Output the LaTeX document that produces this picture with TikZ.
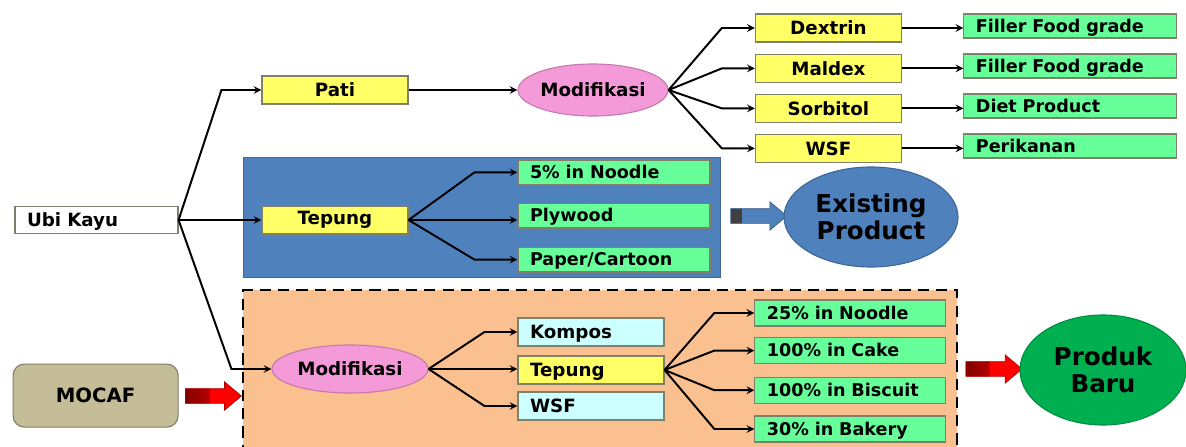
\documentclass[tikz,border=0pt]{standalone}
\usepackage{fontspec}
\setmainfont{DejaVu Sans}
\usetikzlibrary{arrows, shapes.geometric, shapes.arrows, positioning}
\pgfdeclarelayer{bg}
\pgfsetlayers{bg,main}
\definecolor{yel}{HTML}{FFFF66}
\definecolor{grn}{HTML}{66FF99}
\definecolor{pnk}{HTML}{F59AD8}
\definecolor{blu}{HTML}{4F81BD}
\definecolor{peach}{HTML}{FAC090}
\definecolor{cyn}{HTML}{CCFFFF}
\definecolor{tan}{HTML}{C4BD97}
\definecolor{dgrn}{HTML}{00B050}
\definecolor{boxline}{HTML}{7F7F6A}
\tikzset{
	font = {\bfseries\fontsize{13pt}{15pt}\selectfont},
	ybox/.style = {rectangle, minimum width = 3.65cm, minimum height = 0.7cm, inner sep = 0pt, text centered, draw = boxline, line width = 0.8pt, fill = yel},
	lbox/.style = {rectangle, inner xsep = 0.3cm, inner ysep = 0pt, align = left, text width = #1, text height = 10.5pt, text depth = 1.5pt, draw = boxline, line width = 0.8pt},
	gbox/.style = {lbox = #1, minimum height = 0.62cm, fill = grn, font = {\bfseries\fontsize{12.5pt}{14pt}\selectfont}},
	modif/.style = {ellipse, inner sep = 0pt, draw = pnk!80!black, line width = 0.8pt, fill = pnk},
	bigell/.style = {ellipse, inner sep = 0pt, align = center, line width = 0.8pt, font = {\bfseries\fontsize{17.5pt}{19pt}\selectfont}},
	blockarrow/.style = {single arrow, inner xsep = 0pt, inner ysep = 0.175cm, minimum height = 1.4cm, single arrow head extend = 0.17cm, single arrow tip angle = 80, draw = #1!70!black, line width = 0.5pt},
	conn/.style = {->, > = stealth, draw = black, line width = 1.4pt}
}

\begin{document}
\begin{tikzpicture}
	\useasboundingbox (0,0) rectangle (29.65,-11.175);

	%%%%%%%% source %%%%%%%%
	\node (ubi) [lbox = 3.475cm, minimum height = 0.675cm, fill = white] at (2.4125,-5.5) {Ubi Kayu};
	\node (mocaf) [rectangle, rounded corners = 8pt, minimum width = 4.125cm, minimum height = 1.575cm, draw = boxline, line width = 0.8pt, fill = tan, font = {\bfseries\fontsize{14pt}{16pt}\selectfont}] at (2.39,-9.89) {MOCAF};

	%% pati branch
	\node (pati) [ybox] at (8.375,-2.25) {Pati};
	\node (modifa) [modif, minimum width = 3.75cm, minimum height = 1.3cm] at (14.825,-2.25) {Modifikasi};
	\node (dextrin) [ybox] at (20.71,-0.7) {Dextrin};
	\node (maldex) [ybox, below of = dextrin, yshift = -0.01cm] {Maldex};
	\node (sorbitol) [ybox, below of = maldex] {Sorbitol};
	\node (wsfa) [ybox, below of = sorbitol] {WSF};
	\node (fillera) [gbox = 4.725cm, minimum height = 0.6cm] at (26.76,-0.65) {Filler Food grade};
	\node (fillerb) [gbox = 4.725cm, minimum height = 0.6cm, below of = fillera] {Filler Food grade};
	\node (diet) [gbox = 4.725cm, minimum height = 0.6cm, below of = fillerb] {Diet Product};
	\node (perikanan) [gbox = 4.725cm, minimum height = 0.6cm, below of = diet] {Perikanan};

	%% existing product
	\begin{pgfonlayer}{bg}
	\node (bluebox) [rectangle, minimum width = 11.925cm, minimum height = 3cm, draw = blu!80!black, fill = blu] at (12.0375,-5.425) {};
	\end{pgfonlayer}
	\node (tepunga) [ybox] at (8.375,-5.5) {Tepung};
	\node (noodle5) [gbox = 4.2cm] at (15.35,-4.31) {5\% in Noodle};
	\node (plywood) [gbox = 4.2cm, below of = noodle5, yshift = -0.08cm] {Plywood};
	\node (paper) [gbox = 4.2cm, below of = plywood, yshift = -0.1cm] {Paper/Cartoon};
	\node (arrowblue) [blockarrow = blu, fill = blu, path picture = {\fill[black!75] (path picture bounding box.south west) rectangle ([xshift = 0.28cm]path picture bounding box.north west);}] at (18.86,-5.4) {};
	\node (existing) [bigell, minimum width = 4.35cm, minimum height = 2.5cm, draw = blu!80!black, fill = blu] at (21.775,-5.425) {Existing\\Product};

	%% new product
	\begin{pgfonlayer}{bg}
	\fill [peach] (6.075,-7.25) rectangle (23.925,-11.4);
	\draw [black, line width = 2pt, dash pattern = on 8pt off 5pt] (6.075,-11.4) -- (6.075,-7.25) -- (23.925,-7.25) -- (23.925,-11.4);
	\end{pgfonlayer}
	\node (arrowreda) [blockarrow = red, fill = red, path picture = {\shade[left color = red!50!black, right color = red] (path picture bounding box.south west) rectangle ([xshift = 0.6cm]path picture bounding box.north west);}] at (5.225,-9.9) {};
	\node (modifb) [modif, minimum width = 3.9cm, minimum height = 1.2cm] at (8.75,-9.225) {Modifikasi};
	\node (kompos) [lbox = 3.05cm, minimum height = 0.7cm, fill = cyn] at (14.775,-8.3) {Kompos};
	\node (tepungb) [lbox = 3.05cm, minimum height = 0.7cm, fill = yel, below of = kompos, yshift = 0.05cm] {Tepung};
	\node (wsfb) [lbox = 3.05cm, minimum height = 0.7cm, fill = cyn, below of = tepungb, yshift = 0.1cm] {WSF};
	\node (noodle25) [gbox = 4.175cm, minimum height = 0.65cm] at (21.26,-7.825) {25\% in Noodle};
	\node (cake) [gbox = 4.175cm, minimum height = 0.65cm, below of = noodle25, yshift = 0.06cm] {100\% in Cake};
	\node (biscuit) [gbox = 4.175cm, minimum height = 0.65cm, below of = cake, yshift = 0.01cm] {100\% in Biscuit};
	\node (bakery) [gbox = 4.175cm, minimum height = 0.65cm, below of = biscuit, yshift = 0.03cm] {30\% in Bakery};
	\node (arrowredb) [blockarrow = red, fill = red, path picture = {\shade[left color = red!50!black, right color = red] (path picture bounding box.south west) rectangle ([xshift = 0.6cm]path picture bounding box.north west);}] at (24.74,-9.225) {};
	\node (produk) [bigell, minimum width = 4.15cm, minimum height = 2.75cm, draw = dgrn!80!black, fill = dgrn] at (27.575,-9.25) {Produk\\Baru};

	%%% arrows %%%
	\draw [conn] (ubi.east) -- ([xshift = -1cm]pati.west) -- (pati.west);
	\draw [conn] (ubi.east) -- (tepunga.west);
	\draw [conn] (ubi.east) -- ([xshift = -1cm]modifb.west) -- (modifb.west);

	\draw [conn] (pati.east) -- (modifa.west);
	\draw [conn] (modifa.east) -- ([xshift = -0.825cm]dextrin.west) -- (dextrin.west);
	\draw [conn] (modifa.east) -- ([xshift = -0.825cm]maldex.west) -- (maldex.west);
	\draw [conn] (modifa.east) -- ([xshift = -0.825cm]sorbitol.west) -- (sorbitol.west);
	\draw [conn] (modifa.east) -- ([xshift = -0.825cm]wsfa.west) -- (wsfa.west);
	\draw [conn] (dextrin.east) -- (dextrin.east -| fillera.west);
	\draw [conn] (maldex.east) -- (maldex.east -| fillerb.west);
	\draw [conn] (sorbitol.east) -- (sorbitol.east -| diet.west);
	\draw [conn] (wsfa.east) -- (wsfa.east -| perikanan.west);

	\draw [conn] (tepunga.east) -- ([xshift = -1.075cm]noodle5.west) -- (noodle5.west);
	\draw [conn] (tepunga.east) -- (tepunga.east -| plywood.west);
	\draw [conn] (tepunga.east) -- ([xshift = -1.075cm]paper.west) -- (paper.west);

	\draw [conn] (modifb.east) -- ([xshift = -0.825cm]kompos.west) -- (kompos.west);
	\draw [conn] (modifb.east) -- (modifb.east -| tepungb.west);
	\draw [conn] (modifb.east) -- ([xshift = -0.825cm]wsfb.west) -- (wsfb.west);
	\draw [conn] (tepungb.east) -- ([xshift = -1cm]noodle25.west) -- (noodle25.west);
	\draw [conn] (tepungb.east) -- ([xshift = -1cm]cake.west) -- (cake.west);
	\draw [conn] (tepungb.east) -- ([xshift = -1cm]biscuit.west) -- (biscuit.west);
	\draw [conn] (tepungb.east) -- ([xshift = -1cm]bakery.west) -- (bakery.west);
\end{tikzpicture}
\end{document}
